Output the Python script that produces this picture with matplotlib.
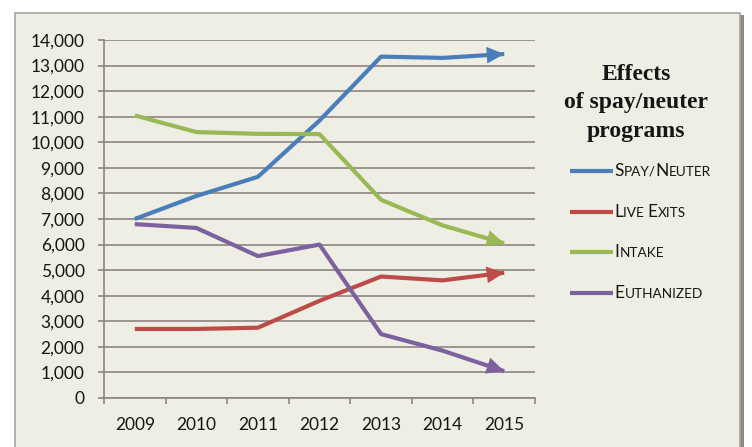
import matplotlib
matplotlib.use("Agg")
import matplotlib.pyplot as plt
import numpy as np
from matplotlib.patches import Rectangle
from matplotlib.lines import Line2D
from matplotlib.offsetbox import TextArea, HPacker, DrawingArea, AnchoredOffsetbox

# ---------------- data ----------------
years = ["2009", "2010", "2011", "2012", "2013", "2014", "2015"]
spay_neuter = [7000, 7900, 8650, 10850, 13350, 13300, 13450]
live_exits = [2700, 2700, 2750, 3800, 4750, 4600, 4900]
intake = [11050, 10400, 10330, 10320, 7750, 6750, 6050]
euthanized = [6800, 6650, 5550, 6000, 2500, 1850, 1050]
series_names = ["Spay/Neuter", "Live Exits", "Intake", "Euthanized"]
series_colors = ["#4A7EBB", "#BE4B48", "#98B954", "#7D60A0"]
y_ticks = list(range(0, 14001, 1000))
title_lines = ["Effects", "of spay/neuter", "programs"]

W, H = 752, 447
def fx(px):
    return px / W
def fy(py):
    return 1 - py / H

fig = plt.figure(figsize=(W / 100, H / 100), dpi=100)
fig.patch.set_facecolor("white")

# panel frame + shadow
fig.add_artist(Rectangle((fx(740), -0.05), 4 / W, fy(15) + 0.05,
                         transform=fig.transFigure, facecolor="#8E8984",
                         edgecolor="none", zorder=0))
fig.add_artist(Rectangle((fx(15), -0.05), fx(740) - fx(15), fy(13) + 0.05,
                         transform=fig.transFigure, facecolor="#EFEEE4",
                         edgecolor="#A8A39E", lw=1.2, zorder=0))

grid_c = "#8D8580"
txt_c = "#151515"
font = "Lato"

ax = fig.add_axes([fx(104), fy(398), fx(535) - fx(104), fy(40) - fy(398)])
ax.set_facecolor("none")
x = np.arange(len(years))
ax.set_xlim(-0.5, len(years) - 0.5)
ax.set_ylim(0, 14000)

ax.set_yticks(y_ticks)
ax.set_yticklabels([f"{v:,}" for v in y_ticks], fontfamily=font, fontsize=12.5, color=txt_c)
ax.set_xticks(x)
ax.set_xticklabels(years, fontfamily=font, fontsize=12.5, color=txt_c)
ax.set_xticks(np.arange(-0.5, len(years), 1.0), minor=True)

ax.yaxis.grid(True, color=grid_c, lw=1.2)
ax.set_axisbelow(True)
for s in ["top", "right"]:
    ax.spines[s].set_visible(False)
for s in ["left", "bottom"]:
    ax.spines[s].set_color(grid_c)
    ax.spines[s].set_linewidth(1.2)
ax.tick_params(axis="y", length=4, width=1.2, color=grid_c, pad=10)
ax.tick_params(axis="x", which="major", length=0, pad=14)
ax.tick_params(axis="x", which="minor", length=4, width=1.2, color=grid_c)

all_series = [spay_neuter, live_exits, intake, euthanized]
for vals, c in zip(all_series, series_colors):
    ax.plot(x, vals, color=c, lw=3.0, solid_capstyle="butt", solid_joinstyle="round", zorder=3)
    ax.annotate("", xy=(x[-1], vals[-1]), xytext=(x[-2], vals[-2]),
                arrowprops=dict(arrowstyle="-|>,head_length=1.05,head_width=0.5",
                                mutation_scale=12, color=c, lw=0,
                                shrinkA=0, shrinkB=0), zorder=4)

# title
for line, by in zip(title_lines, [80, 108, 137]):
    fig.text(fx(636), fy(by), line, ha="center", va="baseline",
             fontfamily="Liberation Serif", fontweight="bold", fontsize=17, color=txt_c)

# legend (small caps labels)
def small_caps(label, big=12.5, small=9.8):
    runs = []
    for ch in label:
        is_big = ch.isupper()
        if runs and runs[-1][1] == is_big:
            runs[-1][0] += ch
        else:
            runs.append([ch, is_big])
    kids = []
    for text, is_big in runs:
        kids.append(TextArea(text.upper(), textprops=dict(
            fontfamily=font, fontsize=big if is_big else small, color=txt_c)))
    return HPacker(children=kids, align="baseline", pad=0, sep=0)

for i, (name, c) in enumerate(zip(series_names, series_colors)):
    da = DrawingArea(31, 8, 0, 0)
    da.add_artist(Line2D([0, 31], [4, 4], color=c, lw=3.0, solid_capstyle="butt"))
    box = HPacker(children=[da, small_caps(name)], align="center", pad=0, sep=1)
    ab = AnchoredOffsetbox(loc="center left", child=box, pad=0, borderpad=0,
                           frameon=False, bbox_to_anchor=(fx(570), fy(171 + 40.6 * i)),
                           bbox_transform=fig.transFigure)
    fig.add_artist(ab)

fig.savefig("out.png", dpi=100, facecolor=fig.get_facecolor())
